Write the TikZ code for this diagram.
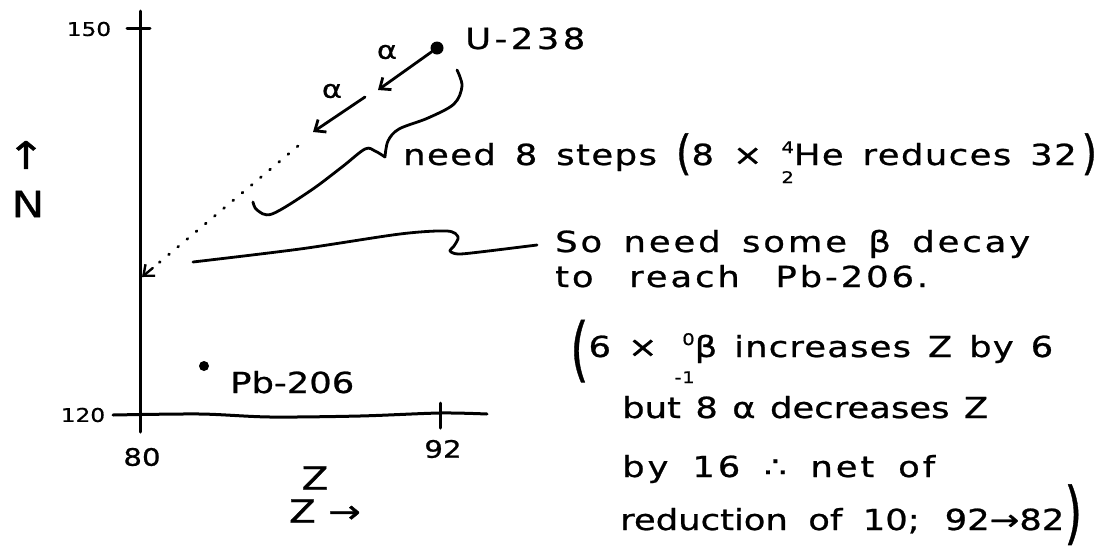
\documentclass[tikz,border=0pt]{standalone}
\usepackage{fontspec}
\usepackage{graphicx}
\setmainfont{DejaVu Sans}[FakeStretch=1.22, FakeBold=0.8]
\usetikzlibrary{arrows.meta, calc}
% stacked nuclide indices: #1 raise of upper, #2 upper, #3 raise of lower, #4 lower
\newcommand\nuc[4]{{\fontsize{16pt}{16pt}\selectfont
  \setbox0=\hbox{#2}\setbox2=\hbox{#4}%
  \dimen0=\wd0 \ifdim\wd2>\dimen0 \dimen0=\wd2 \fi
  \hbox to \dimen0{\hfil\raise#1\box0}%
  \kern-\dimen0
  \hbox to \dimen0{\hfil\raise#3\box2}}}
% large hand-drawn parenthesis: #1 raise, #2 x-scale, #3 size, #4 glyph
\newcommand\bigpar[4]{\raisebox{#1}{\scalebox{#2}[1]{\fontsize{#3}{#3}\selectfont #4}}}
\newcommand\wide[1]{\addfontfeature{LetterSpace=#1}}
\tikzset{
  ink/.style={line width=2.8pt, line cap=round, line join=round},
  axisline/.style={line width=3pt, line cap=round},
  barb/.style={-{Straight Barb[length=9pt,width=15pt]}},
  dotline/.style={line width=2.8pt, line cap=round, dash pattern=on 1pt off 11pt},
  dot/.style={circle, fill=black, inner sep=0pt},
  txt/.style={anchor=base west, inner sep=0pt, font=\fontsize{29pt}{34pt}\selectfont},
  small/.style={inner sep=0pt, font=\fontsize{19pt}{21pt}\selectfont},
  mid/.style={inner sep=0pt, font=\fontsize{24pt}{26pt}\selectfont},
  greek/.style={inner sep=0pt, font=\fontsize{25pt}{27pt}\selectfont},
  big/.style={inner sep=0pt, font=\fontsize{32pt}{36pt}\selectfont},
}
\begin{document}
\begin{tikzpicture}[x=1pt, y=-1pt]
\path[use as bounding box, fill=white] (0,0) rectangle (1114,555);

% ---------- axes ----------
\coordinate (ytop) at (140,11);
\coordinate (ybot) at (140,432);
\draw[axisline] (ytop) -- (ybot);
\coordinate (t150a) at (127,28);
\coordinate (t150b) at (150,28);
\draw[axisline] (t150a) -- (t150b);
\coordinate (xl) at (113,415);
\coordinate (xr) at (487,414);
\draw[axisline] plot[smooth, tension=0.5] coordinates {(xl) (200,414) (270,417) (360,416) (440,413) (xr)};
\coordinate (t92a) at (440,403);
\coordinate (t92b) at (440,428);
\draw[axisline] (t92a) -- (t92b);

\node[small] (l150) at (89,29) {150};
\node[small] (l120) at (83,415) {120};
\node[mid] (l80) at (142,457) {80};
\node[mid] (l92) at (443,449) {92};
\node[big] (zlab) at (315,478) {Z};
\node[big] (zarr) at (325,511) {Z →};
\node[inner sep=0pt, font=\fontsize{38pt}{40pt}\selectfont] (narr) at (26,155) {↑};
\node[inner sep=0pt, font=\fontsize{36pt}{40pt}\selectfont] (nlab) at (28,204) {N};

% ---------- nuclides ----------
\node[dot, minimum size=13pt] (u) at (437,48) {};
\node[txt, font=\fontsize{29pt}{34pt}\selectfont\wide{12}] (ulab) at (465,49) {U-238};
\node[dot, minimum size=10pt] (pb) at (204,366) {};
\node[txt] (pblab) at (230,393) {Pb-206};

% ---------- alpha steps ----------
\coordinate (a1e) at (378,90);
\draw[ink, barb] (u) -- (a1e);
\node[greek] (al1) at (387,52) {α};
\coordinate (a2s) at (365,97);
\coordinate (a2e) at (313,132);
\draw[ink, barb] (a2s) -- (a2e);
\node[greek] (al2) at (332,91) {α};
\coordinate (ds) at (298,146);
\coordinate (ax) at (142,277);
\coordinate (axn) at ($(ax)!14pt!(ds)$);
\draw[dotline] (ds) -- (axn);
\draw[line width=2.4pt, line cap=round, barb] (axn) -- (ax);

% ---------- brace for "need 8 steps" ----------
\coordinate (btop) at (457,70);
\coordinate (btip) at (385,157);
\coordinate (bend) at (253,202);
\draw[ink] plot[smooth, tension=0.55] coordinates
  {(btop) (462,86) (454,104) (428,118) (399,129) (388,141) (btip)};
\draw[ink] plot[smooth, tension=0.55] coordinates
  {(btip) (375,151) (365,149) (342,167) (310,191) (272,214) (257,210) (bend)};

% ---------- squiggle to the beta note ----------
\coordinate (sq1) at (193,262);
\coordinate (sq2) at (537,245);
\draw[ink] plot[smooth, tension=0.5] coordinates
  {(sq1) (300,249) (400,234) (447,231) (458,237) (454,246) (450,251) (458,254) (480,252) (sq2)};

% ---------- notes ----------
\node[txt] (n1) at (403,165) {\wide{5}\makebox[694pt][s]{need 8 steps \bigpar{-4pt}{0.7}{47pt}{(}8 × \nuc{12pt}{4}{-18pt}{2}He reduces 32\,\bigpar{-4pt}{0.7}{47pt}{)}}};
\node[txt] (n2) at (555,252) {\wide{10}\makebox[475pt][s]{So need some β decay}};
\node[txt] (n3) at (555,287) {\wide{10}\makebox[373pt][s]{to reach Pb-206.}};
\node[txt] (n4) at (570,357) {\wide{4}\makebox[483pt][s]{\bigpar{-16pt}{0.55}{70pt}{(}6 × \nuc{12pt}{0}{-26pt}{-1}β increases Z by 6}};
\node[txt] (n5) at (622,418) {\makebox[366pt][s]{but 8 α decreases Z}};
\node[txt] (n6) at (622,477) {\wide{10}\makebox[313pt][s]{by 16 ∴ net of}};
\node[txt] (n7) at (620,530) {\makebox[462pt][s]{reduction of 10; 92→82\bigpar{-6pt}{0.55}{68pt}{)}}};
\end{tikzpicture}
\end{document}
